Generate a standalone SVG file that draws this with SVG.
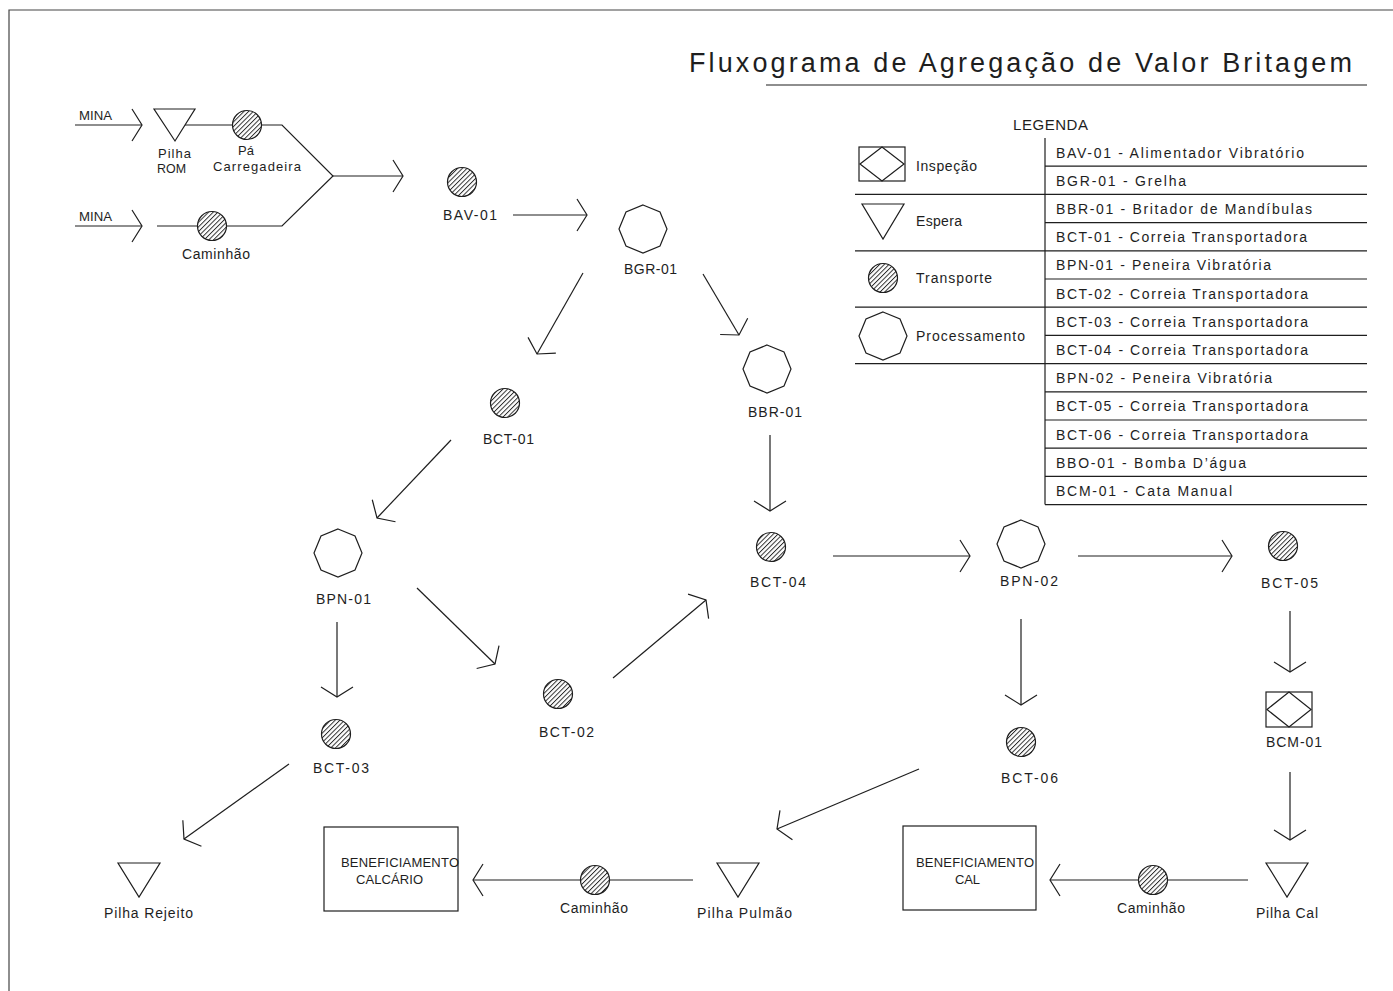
<svg xmlns="http://www.w3.org/2000/svg" width="1393" height="991" viewBox="0 0 1393 991">
<style>
.ln{fill:none;stroke:#1e1e1e;stroke-width:1.2}
.ar{fill:none;stroke:#1e1e1e;stroke-width:1.2;marker-end:url(#ah)}
.sh{fill:#fff;stroke:#1e1e1e;stroke-width:1.2}
.hc{fill:url(#hatch);stroke:#1e1e1e;stroke-width:1.2}
text{font-family:"Liberation Sans",Arial,sans-serif;font-size:14px;fill:#1e1e1e}
.lg{font-size:14px}
.ti{font-size:27px}
.bx{font-size:13px}
.sm{font-size:13px}
</style>
<defs>
<marker id="ah" markerUnits="userSpaceOnUse" markerWidth="24" markerHeight="40" viewBox="-12 -20 24 40" refX="0" refY="0" orient="auto">
<path d="M-10,-16 L0,0 L-10,16" fill="none" stroke="#1e1e1e" stroke-width="1.2"/>
</marker>
<pattern id="hatch" patternUnits="userSpaceOnUse" width="3.3" height="3.3" patternTransform="rotate(45)">
<rect width="3.3" height="3.3" fill="#fff"/>
<line x1="0.5" y1="0" x2="0.5" y2="3.3" stroke="#1e1e1e" stroke-width="0.9"/>
</pattern>
<polygon id="oct" points="0,-24 17,-17 24,0 17,17 0,24 -17,17 -24,0 -17,-17"/>
</defs>
<rect width="1393" height="991" fill="#fff"/>
<path d="M9,991 V10 H1393" fill="none" stroke="#444" stroke-width="1.2"/>

<g id="title">
<text class="ti" x="689" y="72" textLength="663" lengthAdjust="spacing">Fluxograma de Agregação de Valor Britagem</text>
<line class="ln" x1="766" y1="85" x2="1367" y2="85"/>
</g>

<g id="legend">
<text x="1013" y="130" style="font-size:15px" textLength="75" lengthAdjust="spacing">LEGENDA</text>
<line class="ln" x1="1045" y1="138" x2="1045" y2="504.6"/>
<path class="ln" d="M1045,166.2H1367 M855,194.4H1367 M1045,222.6H1367 M855,250.8H1367 M1045,279H1367 M855,307.2H1367 M1045,335.4H1367 M855,363.6H1367 M1045,391.8H1367 M1045,420H1367 M1045,448.2H1367 M1045,476.4H1367 M1045,504.6H1367"/>
<rect class="sh" x="859" y="147" width="46" height="34"/>
<polygon class="ln" points="860,164 882,147 904,164 882,181"/>
<text class="lg" x="916" y="171" textLength="61" lengthAdjust="spacing">Inspeção</text>
<polygon class="sh" points="862,204 904,204 883,239"/>
<text class="lg" x="916" y="226" textLength="46" lengthAdjust="spacing">Espera</text>
<circle class="hc" cx="883" cy="278" r="14.5"/>
<text class="lg" x="916" y="283" textLength="76" lengthAdjust="spacing">Transporte</text>
<use href="#oct" x="883" y="336" class="sh"/>
<text class="lg" x="916" y="341" textLength="109" lengthAdjust="spacing">Processamento</text>
<text class="lg" x="1056" y="157.5" textLength="248" lengthAdjust="spacing">BAV-01 - Alimentador Vibratório</text>
<text class="lg" x="1056" y="185.7" textLength="130" lengthAdjust="spacing">BGR-01 - Grelha</text>
<text class="lg" x="1056" y="213.9" textLength="256" lengthAdjust="spacing">BBR-01 - Britador de Mandíbulas</text>
<text class="lg" x="1056" y="242.1" textLength="251" lengthAdjust="spacing">BCT-01 - Correia Transportadora</text>
<text class="lg" x="1056" y="270.3" textLength="215" lengthAdjust="spacing">BPN-01 - Peneira Vibratória</text>
<text class="lg" x="1056" y="298.5" textLength="252" lengthAdjust="spacing">BCT-02 - Correia Transportadora</text>
<text class="lg" x="1056" y="326.7" textLength="252" lengthAdjust="spacing">BCT-03 - Correia Transportadora</text>
<text class="lg" x="1056" y="354.9" textLength="252" lengthAdjust="spacing">BCT-04 - Correia Transportadora</text>
<text class="lg" x="1056" y="383.1" textLength="216" lengthAdjust="spacing">BPN-02 - Peneira Vibratória</text>
<text class="lg" x="1056" y="411.3" textLength="252" lengthAdjust="spacing">BCT-05 - Correia Transportadora</text>
<text class="lg" x="1056" y="439.5" textLength="252" lengthAdjust="spacing">BCT-06 - Correia Transportadora</text>
<text class="lg" x="1056" y="467.7" textLength="190" lengthAdjust="spacing">BBO-01 - Bomba D’água</text>
<text class="lg" x="1056" y="495.9" textLength="176" lengthAdjust="spacing">BCM-01 - Cata Manual</text>
</g>

<g id="connectors">
<line class="ar" x1="75" y1="125" x2="142" y2="125"/>
<line class="ar" x1="75" y1="226" x2="142" y2="226"/>
<line class="ln" x1="185" y1="125" x2="233" y2="125"/>
<polyline class="ln" points="261,125 282,125 333,176 282,226 226,226"/>
<line class="ln" x1="157" y1="226" x2="198" y2="226"/>
<line class="ar" x1="333" y1="176" x2="403" y2="176"/>
<line class="ar" x1="513" y1="215" x2="587" y2="215"/>
<line class="ar" x1="583" y1="273" x2="537" y2="354"/>
<line class="ar" x1="703" y1="274" x2="739" y2="335"/>
<line class="ar" x1="451" y1="440" x2="377" y2="518"/>
<line class="ar" x1="770" y1="435" x2="770" y2="511"/>
<line class="ar" x1="337" y1="622" x2="337" y2="697"/>
<line class="ar" x1="417" y1="588" x2="495" y2="664"/>
<line class="ar" x1="613" y1="678" x2="706" y2="600"/>
<line class="ar" x1="833" y1="556" x2="970" y2="556"/>
<line class="ar" x1="1078" y1="556" x2="1232" y2="556"/>
<line class="ar" x1="1290" y1="611" x2="1290" y2="672"/>
<line class="ar" x1="1290" y1="772" x2="1290" y2="840"/>
<line class="ar" x1="1021" y1="619" x2="1021" y2="705"/>
<line class="ar" x1="919" y1="769" x2="777" y2="829"/>
<line class="ar" x1="289" y1="764" x2="184" y2="839"/>
<line class="ln" x1="693" y1="880" x2="609" y2="880"/>
<line class="ar" x1="581" y1="880" x2="473" y2="880"/>
<line class="ln" x1="1248" y1="880" x2="1167" y2="880"/>
<line class="ar" x1="1139" y1="880" x2="1050" y2="880"/>
</g>

<g id="mina1"><text class="sm" x="79" y="120" textLength="33" lengthAdjust="spacingAndGlyphs">MINA</text></g>
<g id="mina2"><text class="sm" x="79" y="221" textLength="33" lengthAdjust="spacingAndGlyphs">MINA</text></g>
<g id="pilha-rom">
<polygon class="sh" points="154,109 195,109 175,141"/>
<text class="sm" x="158" y="157.5" textLength="33" lengthAdjust="spacing">Pilha</text>
<text class="sm" x="157" y="172.5" textLength="29" lengthAdjust="spacingAndGlyphs">ROM</text>
</g>
<g id="pa-carregadeira">
<circle class="hc" cx="247" cy="125" r="14.5"/>
<text style="font-size:13px" x="238" y="155">Pá</text>
<text style="font-size:13px" x="213" y="170.5" textLength="88" lengthAdjust="spacing">Carregadeira</text>
</g>
<g id="caminhao-top">
<circle class="hc" cx="212" cy="226" r="14.5"/>
<text x="182" y="259" textLength="68" lengthAdjust="spacing">Caminhão</text>
</g>
<g id="bav-01">
<circle class="hc" cx="462" cy="182" r="14.5"/>
<text x="443" y="220" textLength="54" lengthAdjust="spacing">BAV-01</text>
</g>
<g id="bgr-01">
<use href="#oct" x="643" y="229" class="sh"/>
<text x="624" y="274" textLength="53" lengthAdjust="spacing">BGR-01</text>
</g>
<g id="bbr-01">
<use href="#oct" x="767" y="369" class="sh"/>
<text x="748" y="417" textLength="54" lengthAdjust="spacing">BBR-01</text>
</g>
<g id="bct-01">
<circle class="hc" cx="505" cy="403" r="14.5"/>
<text x="483" y="444" textLength="51" lengthAdjust="spacing">BCT-01</text>
</g>
<g id="bpn-01">
<use href="#oct" x="338" y="553" class="sh"/>
<text x="316" y="604" textLength="55" lengthAdjust="spacing">BPN-01</text>
</g>
<g id="bct-03">
<circle class="hc" cx="336" cy="734" r="14.5"/>
<text x="313" y="773" textLength="56" lengthAdjust="spacing">BCT-03</text>
</g>
<g id="bct-02">
<circle class="hc" cx="558" cy="694" r="14.5"/>
<text x="539" y="737" textLength="55" lengthAdjust="spacing">BCT-02</text>
</g>
<g id="bct-04">
<circle class="hc" cx="771" cy="547" r="14.5"/>
<text x="750" y="587" textLength="56" lengthAdjust="spacing">BCT-04</text>
</g>
<g id="bpn-02">
<use href="#oct" x="1021" y="544" class="sh"/>
<text x="1000" y="586" textLength="58" lengthAdjust="spacing">BPN-02</text>
</g>
<g id="bct-05">
<circle class="hc" cx="1283" cy="546" r="14.5"/>
<text x="1261" y="588" textLength="57" lengthAdjust="spacing">BCT-05</text>
</g>
<g id="bcm-01">
<rect class="sh" x="1266" y="692" width="46" height="35"/>
<polygon class="ln" points="1267,709.5 1289,692 1311,709.5 1289,727"/>
<text x="1266" y="747" textLength="56" lengthAdjust="spacing">BCM-01</text>
</g>
<g id="bct-06">
<circle class="hc" cx="1021" cy="742" r="14.5"/>
<text x="1001" y="783" textLength="57" lengthAdjust="spacing">BCT-06</text>
</g>
<g id="pilha-rejeito">
<polygon class="sh" points="118,863 160,863 139,897"/>
<text x="104" y="918" textLength="89" lengthAdjust="spacing">Pilha Rejeito</text>
</g>
<g id="beneficiamento-calcario">
<rect class="sh" x="324" y="827" width="134" height="84"/>
<text class="bx" x="341" y="867" textLength="118" lengthAdjust="spacing">BENEFICIAMENTO</text>
<text class="bx" x="356" y="884" textLength="67" lengthAdjust="spacing">CALCÁRIO</text>
</g>
<g id="caminhao-left">
<circle class="hc" cx="595" cy="880" r="14.5"/>
<text x="560" y="913" textLength="68" lengthAdjust="spacing">Caminhão</text>
</g>
<g id="pilha-pulmao">
<polygon class="sh" points="717,863 759,863 738,897"/>
<text x="697" y="918" textLength="95" lengthAdjust="spacing">Pilha Pulmão</text>
</g>
<g id="beneficiamento-cal">
<rect class="sh" x="903" y="826" width="133" height="84"/>
<text class="bx" x="916" y="867" textLength="118" lengthAdjust="spacing">BENEFICIAMENTO</text>
<text class="bx" x="955" y="884" textLength="25" lengthAdjust="spacing">CAL</text>
</g>
<g id="caminhao-right">
<circle class="hc" cx="1153" cy="880" r="14.5"/>
<text x="1117" y="913" textLength="68" lengthAdjust="spacing">Caminhão</text>
</g>
<g id="pilha-cal">
<polygon class="sh" points="1266,863 1308,863 1287,897"/>
<text x="1256" y="918" textLength="62" lengthAdjust="spacing">Pilha Cal</text>
</g>
</svg>
